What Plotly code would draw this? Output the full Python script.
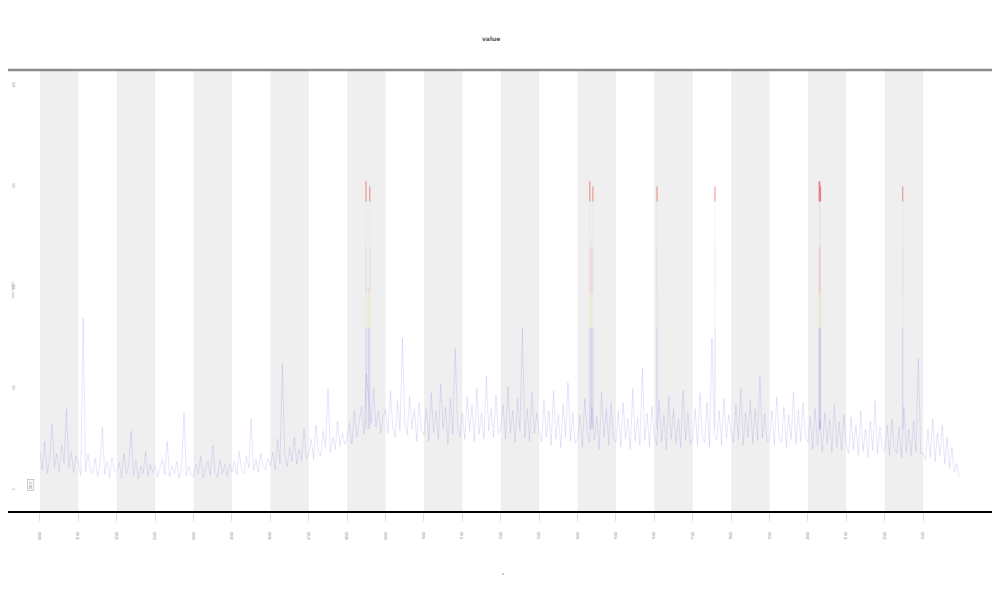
import plotly.graph_objects as go

# -- data --------------------------------------------------------------------------------------------- #
# hourly bands (x in hours), values sampled 16 per hour
hour_labels = [f"{h:02d}:00" for h in range(24)]

values = [
    38, 20, 48, 16, 30, 65, 22, 36, 18, 44, 26, 80, 22, 38, 17, 33,
    27, 14, 170, 18, 35, 20, 16, 31, 13, 26, 62, 15, 28, 12, 32, 19,
    17, 27, 12, 36, 16, 24, 58, 14, 29, 11, 23, 16, 38, 13, 25, 17,
    24, 12, 22, 30, 15, 48, 13, 24, 16, 28, 11, 21, 76, 14, 23, 15,
    13, 25, 16, 33, 12, 22, 28, 14, 44, 17, 12, 30, 16, 25, 13, 26,
    18, 28, 15, 38, 20, 16, 33, 22, 70, 19, 30, 17, 36, 23, 20, 31,
    24, 37, 20, 50, 26, 125, 34, 23, 42, 28, 52, 25, 40, 29, 60, 31,
    36, 50, 30, 64, 38, 33, 58, 42, 100, 37, 52, 40, 68, 43, 56, 45,
    50, 66, 45, 78, 52, 68, 82, 55, 115, 90, 66, 100, 62, 78, 56, 72,
    80, 56, 98, 62, 52, 88, 58, 150, 66, 54, 92, 60, 80, 48, 86, 58,
    54, 80, 48, 96, 57, 78, 50, 105, 60, 82, 45, 90, 55, 140, 64, 52,
    76, 50, 92, 58, 84, 48, 100, 55, 76, 50, 112, 58, 80, 52, 94, 56,
    60, 84, 50, 102, 56, 78, 47, 90, 58, 160, 52, 80, 48, 96, 56, 76,
    56, 47, 88, 52, 78, 44, 98, 50, 74, 42, 84, 52, 106, 48, 76, 46,
    50, 74, 42, 90, 56, 47, 82, 49, 72, 40, 96, 52, 80, 44, 86, 50,
    47, 78, 42, 86, 50, 70, 40, 100, 48, 72, 44, 120, 49, 76, 42, 82,
    54, 44, 88, 48, 74, 40, 92, 50, 80, 46, 70, 42, 98, 49, 76, 45,
    50, 80, 44, 96, 52, 47, 86, 42, 150, 54, 49, 78, 44, 90, 51, 74,
    56, 47, 84, 50, 100, 44, 76, 52, 88, 46, 80, 49, 112, 51, 75, 48,
    49, 78, 44, 92, 52, 47, 82, 42, 74, 50, 96, 45, 79, 48, 86, 52,
    47, 72, 40, 80, 44, 68, 38, 76, 46, 70, 37, 84, 42, 67, 39, 74,
    44, 36, 72, 40, 64, 34, 78, 38, 60, 32, 68, 39, 88, 36, 62, 40,
    38, 64, 34, 70, 40, 36, 62, 32, 82, 37, 60, 34, 68, 38, 130, 36,
    36, 30, 60, 32, 70, 28, 56, 34, 64, 26, 52, 22, 42, 18, 26, 12,
]
per_hour = 16

# isolated peaks (hour, value)
peak_hours = [8.49, 8.55, 8.59, 14.32, 14.36, 14.40, 16.07, 17.58, 20.29, 20.31, 20.33, 22.47]
peak_values = [305, 200, 300, 305, 250, 300, 300, 300, 305, 305, 300, 300]

# colour bands along a peak: (from, to, colour)
peak_bands = [
    (60, 160, "rgba(80,80,225,0.20)"),
    (160, 195, "rgba(225,205,110,0.22)"),
    (195, 240, "rgba(230,110,110,0.20)"),
    (240, 285, "rgba(230,140,140,0.08)"),
    (285, 400, "rgba(225,30,30,0.50)"),
]

title_text = "value"
y_title = "value (units)"
y_ticks = [0, 100, 200, 300, 400]

# -- figure ----------------------------------------------------------------------------------------- #
fig = go.Figure()

# alternating hour bands
for h in range(0, 23, 2):
    fig.add_shape(type="rect", xref="x", yref="paper", x0=h, x1=h + 1, y0=0, y1=1,
                  fillcolor="#efefef", line_width=0, layer="below")

fig.add_trace(go.Scatter(x=[i / per_hour for i in range(len(values))], y=values,
                         mode="lines", hoverinfo="skip",
                         line=dict(color="rgba(80,80,230,0.24)", width=0.6)))

# peaks, coloured by height
for lo, hi, col in peak_bands:
    sx, sy = [], []
    for h, v in zip(peak_hours, peak_values):
        if v > lo:
            sx += [h, h, None]
            sy += [lo, min(v, hi), None]
    fig.add_trace(go.Scatter(x=sx, y=sy, mode="lines", hoverinfo="skip",
                             line=dict(color=col, width=1)))

# top border
fig.add_shape(type="line", xref="paper", yref="paper", x0=0, x1=1, y0=1, y1=1,
              line=dict(color="#8a8a8a", width=2.5))

fig.update_layout(
    width=992, height=592, showlegend=False,
    paper_bgcolor="white", plot_bgcolor="white",
    margin=dict(l=0, r=2, t=62, b=89),
    title=dict(text=f"<b>{title_text}</b>", x=0.487, y=0.952, xanchor="center",
               font=dict(size=6, color="#555", family="DejaVu Sans")),
    xaxis=dict(range=[-0.833, 24.95], tickmode="array", tickvals=list(range(24)),
               ticktext=hour_labels, tickangle=-90, ticks="outside", ticklen=8,
               tickcolor="#dddddd", tickfont=dict(size=3, color="#777"),
               ticklabelstandoff=10,
               showgrid=False, zeroline=False, showline=True, linecolor="black",
               linewidth=1.5, title=dict(text="x", font=dict(size=4, color="#777"),
                                          standoff=34)),
    yaxis=dict(range=[-21, 415], tickvals=y_ticks, ticklabelposition="inside",
               tickangle=-90, tickfont=dict(size=3, color="#999"), showgrid=False,
               zeroline=False, showline=False, ticks=""),
    annotations=[
        dict(text=y_title, textangle=-90, x=0.0, y=0.5, xref="paper", yref="paper",
             xanchor="left", showarrow=False, font=dict(size=3, color="#999")),
        dict(text="30.0", textangle=-90, x=-0.24, y=5, xref="x", yref="y",
             showarrow=False, bordercolor="#999", borderwidth=0.5, borderpad=0.5,
             font=dict(size=4, color="#555")),
    ],
)

fig.write_html("out.html")
